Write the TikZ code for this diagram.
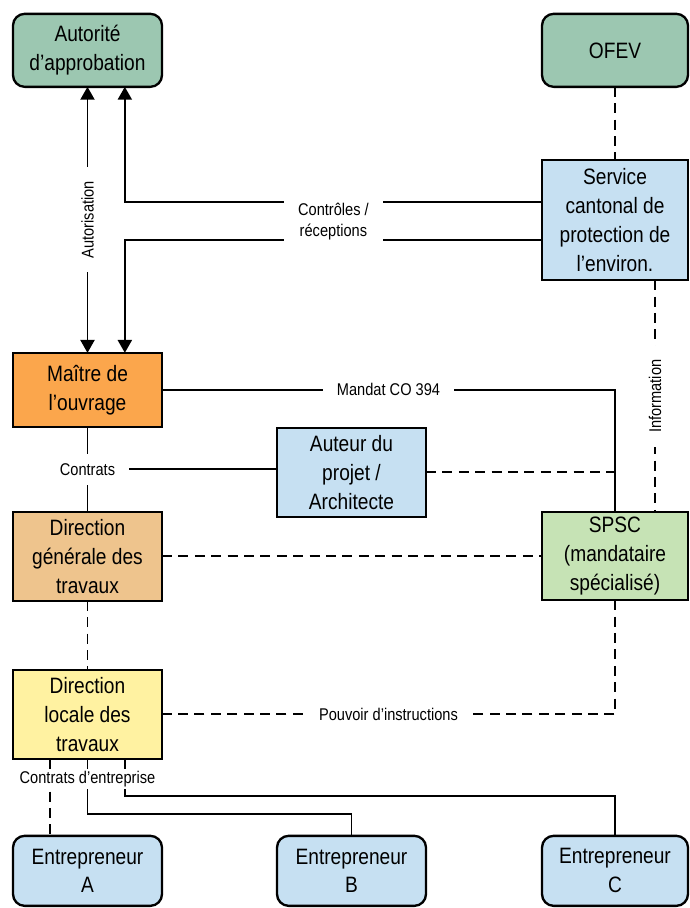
\documentclass[tikz,border=0pt]{standalone}
\usepackage{fontspec}
\setmainfont[FakeStretch=0.86]{Liberation Sans}
\usetikzlibrary{positioning}
\usetikzlibrary{arrows.meta}

\definecolor{autgreen}{HTML}{9CC7B1}
\definecolor{lblue}{HTML}{C6E0F2}
\definecolor{morange}{HTML}{FBA64C}
\definecolor{dgtan}{HTML}{EEC48D}
\definecolor{spgreen}{HTML}{C6E3B5}
\definecolor{dlyellow}{HTML}{FFF2A1}

\tikzset{
  box/.style={draw, line width=2pt, align=center, inner sep=0pt, outer sep=0pt, minimum width=4.47cm, minimum height=2.67cm, font=\fontsize{19}{24.7}\selectfont},
  rbox/.style={box, rounded corners=0.35cm},
  rcol/.style={minimum width=4.38cm},
  link/.style={line width=1.7pt},
  dlink/.style={link, dash pattern=on 8.5pt off 5.5pt},
  arrowline/.style={link, -{Triangle[length=11pt,width=12pt]}},
  lbl/.style={fill=white, inner xsep=0.42cm, inner ysep=2pt, align=center, font=\fontsize{14.5}{18}\selectfont}
}

\begin{document}
\begin{tikzpicture}
\useasboundingbox (0,0) rectangle (20.7,-27.24);

% Define nodes
\node[rbox, fill=autgreen, minimum height=2.19cm] (autorite) at (2.625,-1.51) {Autorité\\d’approbation};
\node[rbox, rcol, fill=autgreen, minimum height=2.19cm, right=11.4 of autorite] (ofev) {OFEV};
\node[box, rcol, fill=lblue, minimum height=3.6cm, below=2.2 of ofev] (service) {Service\\cantonal de\\protection de\\l’environ.};
\node[box, fill=morange, minimum height=2.22cm, below=7.98 of autorite] (maitre) {Maître de\\l’ouvrage};
\node[box, fill=dgtan, below=2.55 of maitre] (dirgen) {Direction\\générale des\\travaux};
\node[box, fill=dlyellow, below=2.07 of dirgen] (dirloc) {Direction\\locale des\\travaux};
\node[box, fill=lblue, below right=0.03 and 3.45 of maitre] (auteur) {Auteur du\\projet /\\Architecte};
\node[box, rcol, fill=spgreen, minimum height=2.64cm, below=6.96 of service] (spsc) {SPSC\\(mandataire\\spécialisé)};
\node[rbox, fill=lblue, minimum height=2.1cm, below=2.31 of dirloc] (entrA) {Entrepreneur\\A};
\node[rbox, fill=lblue, minimum height=2.1cm, right=3.45 of entrA] (entrB) {Entrepreneur\\B};
\node[rbox, rcol, fill=lblue, minimum height=2.1cm, right=3.48 of entrB] (entrC) {Entrepreneur\\C};

% Edges
\draw[link, {Triangle[length=11pt,width=12pt]}-{Triangle[length=11pt,width=12pt]}] (autorite.south) -- node[lbl, rotate=90] {Autorisation} (maitre.north);
\draw[arrowline] ([yshift=-0.6cm]service.west) -| ([xshift=1.12cm]maitre.north);
\draw[arrowline] ([yshift=0.54cm]service.west) -| node[lbl, pos=0.25, yshift=-0.57cm, inner ysep=0.2cm] {Contrôles /\\réceptions} ([xshift=1.12cm]autorite.south);
\draw[dlink] (ofev.south) -- (ofev.south |- service.north);
\draw[dlink] ([xshift=1.2cm]service.south) -- node[lbl, rotate=90] {Information} ([xshift=1.2cm]spsc.north);
\draw[link] (maitre.east) -| node[lbl, pos=0.25] {Mandat CO 394} (spsc.north);
\draw[link] (maitre.south) -- node[lbl, inner ysep=0.28cm, inner xsep=0.4cm] (contrats) {Contrats} (dirgen.north);
\draw[link] (contrats.east) -- (contrats.east -| auteur.west);
\draw[dlink] (auteur.east) -- (auteur.east -| spsc.north);
\draw[dlink] (dirgen.east) -- (dirgen.east -| spsc.west);
\draw[dlink] (dirgen.south) -- (dirloc.north);
\draw[dlink] (spsc.south) |- node[lbl, pos=0.75, inner xsep=0.33cm] {Pouvoir d’instructions} (dirloc.east);
\draw[dlink] ([xshift=-1.12cm]dirloc.south) -- ([xshift=-1.12cm]entrA.north);
\draw[link] (dirloc.south) -- ++(0,-1.65) -| (entrB.north);
\draw[link] ([xshift=1.12cm]dirloc.south) -- ++(0,-1.11) -| (entrC.north);
\node[lbl, inner xsep=2pt] at ([yshift=-0.6cm]dirloc.south) {Contrats d’entreprise};
\end{tikzpicture}
\end{document}
